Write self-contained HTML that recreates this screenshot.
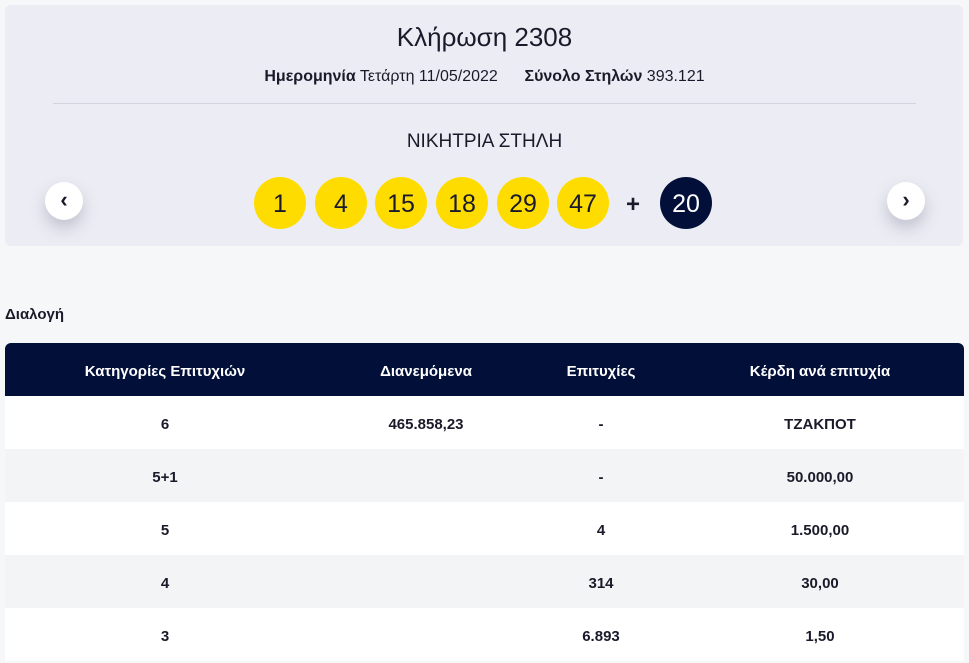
<!DOCTYPE html>
<html><head><meta charset="utf-8"><style>
*{margin:0;padding:0;box-sizing:border-box}
body{width:969px;height:662px;background:#f6f7f9;font-family:"Liberation Sans",sans-serif;color:#1a1a2a;position:relative;overflow:hidden}
.card{position:absolute;left:5px;top:5px;width:958px;height:241px;background:#ecedf4;border-radius:6px}
.t{position:absolute;left:0;width:969px;text-align:center;white-space:nowrap}
.ball{position:absolute;top:177px;width:52px;height:52px;border-radius:50%;background:#ffdc00;text-align:center;line-height:54px;font-size:25px;color:#1a1a2a}
.arrow{position:absolute;top:182px;width:38px;height:38px;border-radius:50%;background:#fff;box-shadow:0 8px 16px rgba(60,60,90,.25);text-align:center;line-height:36px;font-size:22px;font-weight:bold}
.row{position:absolute;left:5px;width:959px;height:53px;font-weight:bold;font-size:15px}
.row span{position:absolute;top:2px;line-height:53px;width:240px;text-align:center}
</style></head><body>
<div class="card"></div>
<div class="t" style="top:22px;font-size:26px">Κλήρωση 2308</div>
<div class="t" style="top:68px;font-size:16px"><b>Ημερομηνία</b> Τετάρτη 11/05/2022 &nbsp;&nbsp;&nbsp;&nbsp; <b>Σύνολο Στηλών</b> 393.121</div>
<div style="position:absolute;left:53px;top:103px;width:863px;height:1px;background:#d3d4de"></div>
<div class="t" style="top:131px;font-size:19px">ΝΙΚΗΤΡΙΑ ΣΤΗΛΗ</div>
<div class="ball" style="left:254px">1</div>
<div class="ball" style="left:315px">4</div>
<div class="ball" style="left:375px">15</div>
<div class="ball" style="left:436px">18</div>
<div class="ball" style="left:497px">29</div>
<div class="ball" style="left:557px">47</div>
<div style="position:absolute;left:626px;top:191px;font-size:24px;font-weight:bold">+</div>
<div class="ball" style="left:660px;background:#020f38;color:#fff">20</div>
<div class="arrow" style="left:45px">‹</div>
<div class="arrow" style="left:887px">›</div>
<div style="position:absolute;left:5px;top:306px;font-size:15px;font-weight:bold">Διαλογή</div>
<div class="row" style="top:343px;background:#020f38;color:#fff;border-radius:6px 6px 0 0"><span style="left:40px">Κατηγορίες Επιτυχιών</span><span style="left:301px">Διανεμόμενα</span><span style="left:476px">Επιτυχίες</span><span style="left:695px">Κέρδη ανά επιτυχία</span></div>
<div class="row" style="top:396px;background:#fff"><span style="left:40px">6</span><span style="left:301px">465.858,23</span><span style="left:476px">-</span><span style="left:695px">ΤΖΑΚΠΟΤ</span></div>
<div class="row" style="top:449px;background:#f3f4f6"><span style="left:40px">5+1</span><span style="left:301px"></span><span style="left:476px">-</span><span style="left:695px">50.000,00</span></div>
<div class="row" style="top:502px;background:#fff"><span style="left:40px">5</span><span style="left:476px">4</span><span style="left:695px">1.500,00</span></div>
<div class="row" style="top:555px;background:#f3f4f6"><span style="left:40px">4</span><span style="left:476px">314</span><span style="left:695px">30,00</span></div>
<div class="row" style="top:608px;background:#fff"><span style="left:40px">3</span><span style="left:476px">6.893</span><span style="left:695px">1,50</span></div>
</body></html>
